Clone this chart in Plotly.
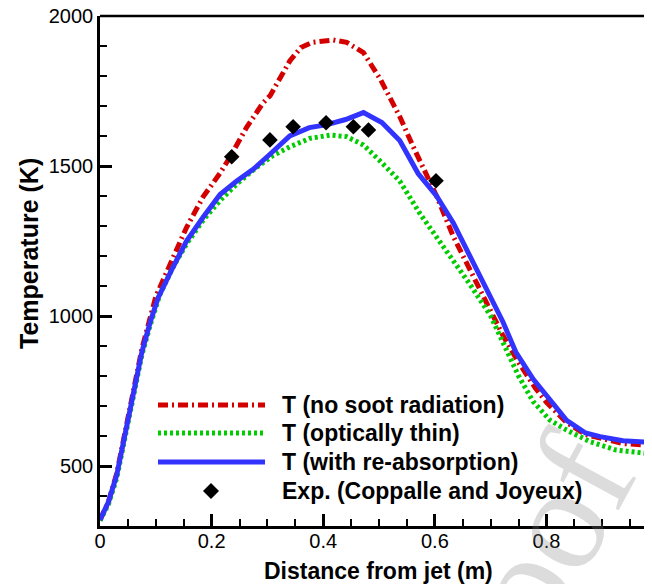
import plotly.graph_objects as go

# ---------------- data ----------------
x_no_soot = [0.0, 0.015, 0.03, 0.05, 0.075, 0.10, 0.13, 0.155, 0.185, 0.215, 0.233, 0.263,
             0.292, 0.305, 0.34, 0.36, 0.38, 0.418, 0.442, 0.472, 0.502, 0.537, 0.561,
             0.58, 0.603, 0.633, 0.663, 0.693, 0.722, 0.75, 0.78, 0.80, 0.836, 0.87,
             0.90, 0.937, 0.99]
T_no_soot = [320, 380, 475, 660, 890, 1065, 1195, 1295, 1398, 1476, 1530, 1630,
             1710, 1735, 1850, 1895, 1912, 1920, 1912, 1878, 1790, 1665, 1565,
             1490, 1400, 1265, 1153, 1035, 935, 845, 760, 712, 645, 605,
             590, 575, 568]

x_thin = [0.0, 0.015, 0.03, 0.05, 0.075, 0.09, 0.107, 0.13, 0.155, 0.185, 0.215, 0.245,
          0.28, 0.31, 0.34, 0.376, 0.412, 0.442, 0.472, 0.50, 0.537, 0.573, 0.603,
          0.633, 0.663, 0.70, 0.727, 0.75, 0.776, 0.806, 0.836, 0.878, 0.925, 0.99]
T_thin = [318, 372, 460, 640, 870, 970, 1070, 1160, 1240, 1320, 1385, 1440,
          1495, 1535, 1564, 1592, 1603, 1598, 1570, 1520, 1450, 1342, 1265,
          1187, 1105, 1000, 895, 800, 715, 653, 620, 581, 553, 540]

x_reabs = [0.0, 0.015, 0.03, 0.05, 0.075, 0.09, 0.104, 0.13, 0.155, 0.185, 0.215, 0.245,
           0.275, 0.305, 0.34, 0.375, 0.405, 0.44, 0.472, 0.505, 0.537, 0.57, 0.603,
           0.633, 0.663, 0.693, 0.722, 0.745, 0.776, 0.80, 0.836, 0.87, 0.896, 0.937, 0.99]
T_reabs = [320, 380, 470, 650, 880, 980, 1060, 1160, 1250, 1330, 1405, 1450,
           1490, 1540, 1600, 1628, 1637, 1655, 1678, 1645, 1585, 1475, 1400,
           1310, 1200, 1090, 980, 880, 790, 735, 652, 610, 598, 584, 578]

x_exp = [0.236, 0.3045, 0.346, 0.405, 0.454, 0.481, 0.602]
T_exp = [1531, 1587, 1631, 1644, 1631, 1620, 1451]

series_names = ["T (no soot radiation)", "T (optically thin)",
                "T (with re-absorption)", "Exp. (Coppalle and Joyeux)"]

x_tick_vals = [0, 0.2, 0.4, 0.6, 0.8]
x_tick_text = ["0", "0.2", "0.4", "0.6", "0.8"]
y_tick_vals = [500, 1000, 1500, 2000]
y_tick_text = ["500", "1000", "1500", "2000"]

x_title = "Distance from jet (m)"
y_title = "Temperature (K)"
watermark = "Journal Pre-proof"

# ---------------- styles / layout ----------------
# The page body has an 8px margin: the figure starts at window (8, 8).
# All positions below are given in window pixels.
OFF = 8
W, H = 652, 584
PL, PR, PT, PB = 100, 652, 16, 526          # plot area in window pixels
ML, MT = PL - OFF, PT - OFF
MR = (W + OFF) - PR
MB = (H + OFF) - PB


def pxp(x):
    return (x - PL) / (PR - PL)


def pyp(y):
    return (PB - y) / (PB - PT)


RED = "#d40000"
GREEN = "#00cc00"
BLUE = "#3333ff"
FONT = "Liberation Sans, Arial, Helvetica, sans-serif"

red_dash = "10px,4px,2px,4px"
green_dash = "3px,3px"

fig = go.Figure()
fig.add_trace(go.Scatter(x=x_no_soot, y=T_no_soot, mode="lines", name=series_names[0],
                         line=dict(color=RED, width=5, dash=red_dash)))
fig.add_trace(go.Scatter(x=x_thin, y=T_thin, mode="lines", name=series_names[1],
                         line=dict(color=GREEN, width=5, dash=green_dash)))
fig.add_trace(go.Scatter(x=x_reabs, y=T_reabs, mode="lines", name=series_names[2],
                         line=dict(color=BLUE, width=5)))
fig.add_trace(go.Scatter(x=x_exp, y=T_exp, mode="markers", name=series_names[3],
                         marker=dict(symbol="diamond", size=12, color="black",
                                     line=dict(width=0))))

# manual legend (long line samples like the original)
rows_y = [405, 433, 462, 491]
styles = [dict(color=RED, width=5, dash=red_dash),
          dict(color=GREEN, width=5, dash=green_dash),
          dict(color=BLUE, width=5, dash="solid")]
shapes = []
annotations = []
# top frame line
shapes.append(dict(type="line", xref="paper", yref="paper", x0=0, x1=1.02, y0=1, y1=1,
                   line=dict(color="black", width=2.5)))
for i in range(3):
    shapes.append(dict(type="line", xref="paper", yref="paper",
                       x0=pxp(158), x1=pxp(265), y0=pyp(rows_y[i]), y1=pyp(rows_y[i]),
                       line=styles[i]))
shapes.append(dict(type="path", xref="paper", yref="paper", xsizemode="pixel",
                   ysizemode="pixel", xanchor=pxp(211), yanchor=pyp(rows_y[3]),
                   path="M-8,0 L0,8 L8,0 L0,-8 Z", fillcolor="black",
                   line=dict(width=0)))
for i, name in enumerate(series_names):
    annotations.append(dict(text="<b>" + name + "</b>", xref="paper", yref="paper",
                            x=pxp(280), y=pyp(rows_y[i]), xanchor="left",
                            yanchor="middle", showarrow=False,
                            font=dict(family=FONT, size=23, color="black")))

# axis titles as fixed annotations
annotations.append(dict(text="<b>" + x_title + "</b>", xref="paper", yref="paper",
                        x=pxp(378), y=pyp(571), xanchor="center", yanchor="middle",
                        showarrow=False, font=dict(family=FONT, size=23, color="black")))
annotations.append(dict(text="<b>" + y_title + "</b>", xref="paper", yref="paper",
                        x=pxp(29), y=pyp(254), xanchor="center", yanchor="middle",
                        textangle=-90, showarrow=False,
                        font=dict(family=FONT, size=25, color="black")))

# faint watermark
annotations.insert(0, dict(text=watermark, xref="paper", yref="paper",
                           x=pxp(348), y=pyp(906), xanchor="center", yanchor="middle",
                           showarrow=False, textangle=-61.6,
                           font=dict(family="Liberation Serif, Times New Roman, serif",
                                     size=148, color="rgba(128,128,128,0.28)")))

fig.update_layout(
    width=W, height=H,
    margin=dict(l=ML, r=MR, t=MT, b=MB, pad=0, autoexpand=False),
    paper_bgcolor="white", plot_bgcolor="white",
    showlegend=False,
    font=dict(family=FONT, color="black"),
    shapes=shapes, annotations=annotations,
)
fig.update_xaxes(
    range=[0, 0.989], tickvals=x_tick_vals, ticktext=x_tick_text,
    ticks="inside", ticklen=12, tickwidth=2.5, tickcolor="black",
    minor=dict(ticks="inside", dtick=0.05, ticklen=7, tickwidth=1.5, tickcolor="black"),
    showline=True, linewidth=2.5, linecolor="black",
    showgrid=False, zeroline=False, automargin=False, ticklabeloverflow="allow",
    ticklabelstandoff=-5,
    tickfont=dict(size=20, family=FONT),
)
fig.update_yaxes(
    range=[300, 2000], tickvals=y_tick_vals, ticktext=y_tick_text,
    ticks="inside", ticklen=12, tickwidth=2.5, tickcolor="black",
    minor=dict(ticks="inside", dtick=100, ticklen=7, tickwidth=1.5, tickcolor="black"),
    showline=True, linewidth=2.5, linecolor="black",
    showgrid=False, zeroline=False, automargin=False, ticklabeloverflow="allow",
    tickfont=dict(size=20, family=FONT),
)

fig.write_html("out.html")
